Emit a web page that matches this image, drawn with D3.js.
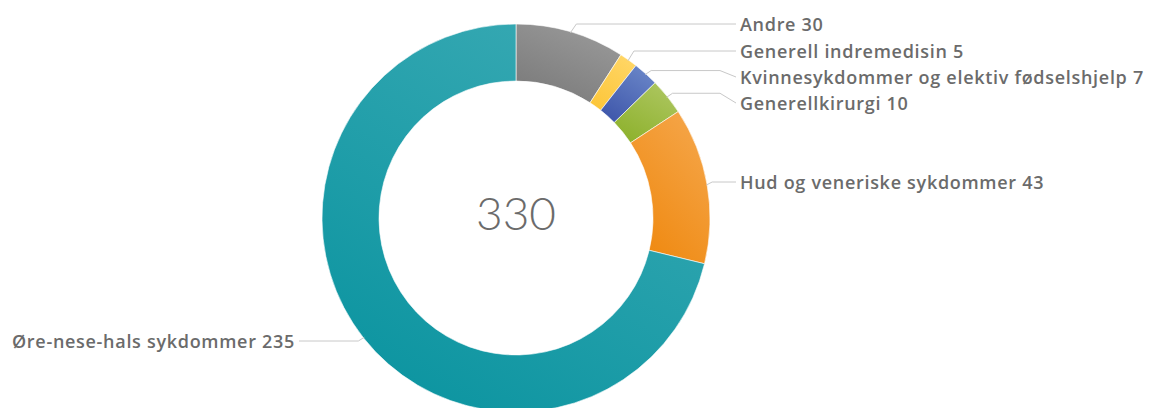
<!DOCTYPE html>
<html>
<head>
<meta charset="utf-8">
<script src="https://cdn.jsdelivr.net/npm/d3@7"></script>
<style>
  html, body { margin: 0; padding: 0; background: #fff; }
  svg { display: block; }
</style>
</head>
<body>
<svg id="chart" width="1151" height="408"></svg>
<script>
// Patients by speciality (total shown in the ring's centre)
const categories = [
  "Andre",
  "Generell indremedisin",
  "Kvinnesykdommer og elektiv fødselshjelp",
  "Generellkirurgi",
  "Hud og veneriske sykdommer",
  "Øre-nese-hals sykdommer"
];
const values = [30, 5, 7, 10, 43, 235];
const colorsLight = ["#9a9a9a", "#ffd666", "#6a86c8", "#adc660", "#f5a64a", "#3aaab4"];
const colorsDark  = ["#7a7a7a", "#fcc63a", "#3e56aa", "#8db12c", "#ef880e", "#0b94a0"];

const W = 1151, H = 408;
const cx = 516, cy = 218;
const rOuter = 194, rInner = 137;

const svg = d3.select("#chart");
const defs = svg.append("defs");

const data = categories.map((c, i) => ({ name: c, value: values[i], i }));
const total = d3.sum(values);

const pie = d3.pie().value(d => d.value).sort(null);
const arcs = pie(data);
const arc = d3.arc().innerRadius(rInner).outerRadius(rOuter);

// one gradient per slice, lighter upper-right to darker lower-left
arcs.forEach((a, i) => {
  const g = defs.append("linearGradient")
    .attr("id", "grad" + i)
    .attr("x1", "0.8").attr("y1", "0")
    .attr("x2", "0.2").attr("y2", "1");
  g.append("stop").attr("offset", "0%").attr("stop-color", colorsLight[i]);
  g.append("stop").attr("offset", "100%").attr("stop-color", colorsDark[i]);
});

const gChart = svg.append("g").attr("transform", `translate(${cx},${cy})`);

gChart.selectAll("path.slice")
  .data(arcs)
  .join("path")
  .attr("class", "slice")
  .attr("d", arc)
  .attr("fill", (d, i) => `url(#grad${i})`)
  .attr("stroke", "#ffffff")
  .attr("stroke-width", 0.6);

// centre total
gChart.append("text")
  .attr("x", 0).attr("y", -6)
  .attr("text-anchor", "middle")
  .attr("dominant-baseline", "central")
  .attr("font-family", "Lato, 'Noto Sans', sans-serif")
  .attr("font-weight", 300)
  .attr("font-size", 46)
  .attr("fill", "#6b6b6b")
  .text(total);

// leader lines and labels (label anchor positions per slice)
const labelY = [24, 51, 77, 103, 182, 341];
const labelSide = [1, 1, 1, 1, 1, -1];
const labelX = [740, 740, 740, 740, 740, 295];

const labels = svg.append("g");
arcs.forEach((a, i) => {
  const mid = (a.startAngle + a.endAngle) / 2;
  const px = cx + Math.sin(mid) * (rOuter - 1);
  const py = cy - Math.cos(mid) * (rOuter - 1);
  const ly = labelY[i];
  const side = labelSide[i];
  const lx = labelX[i];
  let pts;
  if (side > 0) {
    const bendX = px + 6;
    const bendY = Math.min(py - 4, ly);
    if (ly > bendY + 2) {
      // go up, across, then down to the label
      const kneeX = lx - 20;
      pts = [[px, py], [bendX, bendY], [kneeX, bendY], [lx - 4, ly]];
    } else {
      pts = [[px, py], [bendX, ly], [lx - 4, ly]];
    }
  } else {
    pts = [[px, py], [px - 6, ly], [lx + 4, ly]];
  }
  labels.append("path")
    .attr("d", d3.line()(pts))
    .attr("fill", "none")
    .attr("stroke", "#c8c8c8")
    .attr("stroke-width", 1);

  labels.append("text")
    .attr("x", lx)
    .attr("y", ly)
    .attr("text-anchor", side > 0 ? "start" : "end")
    .attr("dominant-baseline", "central")
    .attr("font-family", "'Open Sans', 'Noto Sans', sans-serif")
    .attr("font-weight", 600)
    .attr("font-size", 18)
    .attr("letter-spacing", "0.7px")
    .attr("fill", "#6b6b6b")
    .text(`${a.data.name} ${a.data.value}`);
});
</script>
</body>
</html>
